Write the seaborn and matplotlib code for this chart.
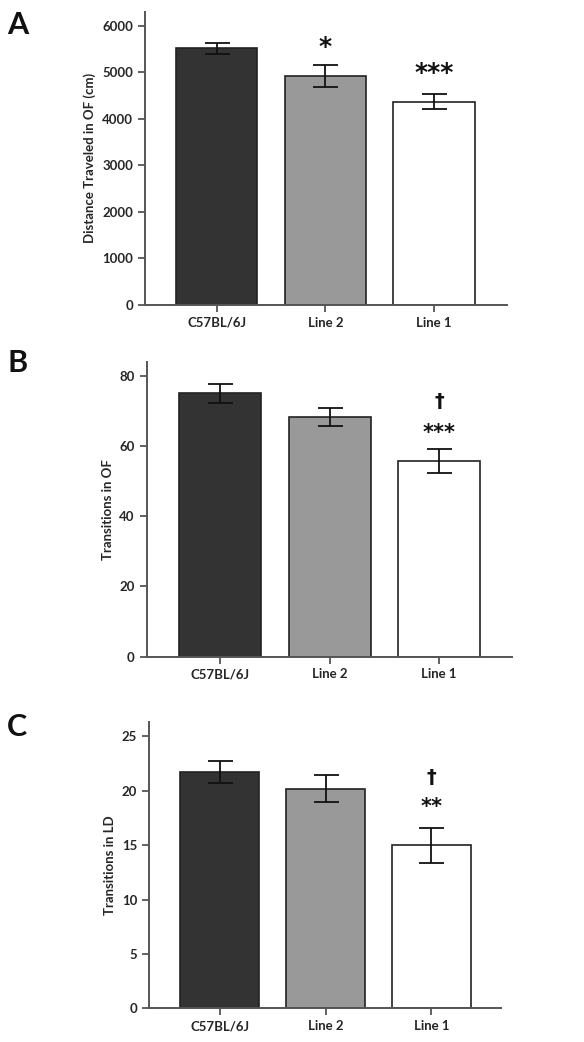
import numpy as np
import matplotlib
matplotlib.use("Agg")
import matplotlib.pyplot as plt
import seaborn as sns

# ---------------------------------------------------------------------------
# Data
# ---------------------------------------------------------------------------
groups = ["C57BL/6J", "Line 2", "Line 1"]
bar_colors = ["#333333", "#999999", "#ffffff"]

dist_mean = [5510, 4920, 4370]
dist_sem = [125, 230, 155]
dist_marks = ["", "*", "***"]

of_mean = [75.0, 68.2, 55.6]
of_sem = [2.7, 2.6, 3.4]
of_marks = ["", "", "***"]
of_dagger = ["", "", "\u2020"]

ld_mean = [21.7, 20.2, 15.0]
ld_sem = [1.0, 1.25, 1.6]
ld_marks = ["", "", "**"]
ld_dagger = ["", "", "\u2020"]

sns.set_theme(style="ticks")
plt.rcParams["font.family"] = ["Lato", "DejaVu Sans"]
plt.rcParams["font.weight"] = "bold"

_SPINE = "#555555"


def draw_panel(ax, means, sems, ylabel, yticks, ylim, xlim, marks, mark_off,
               daggers=None, dagger_off=None, mark_size=16):
    sns.barplot(x=groups, y=means, hue=groups, palette=bar_colors, legend=False,
                width=0.75, edgecolor="#222222", linewidth=1.2, ax=ax,
                saturation=1)
    ax.errorbar(np.arange(len(groups)), means, yerr=sems, fmt="none",
                ecolor="#111111", elinewidth=1.3, capsize=9, capthick=1.3,
                zorder=5)
    # significance marks above the bars
    for i, m in enumerate(marks):
        if m:
            ax.text(i, means[i] + mark_off, m, ha="center", va="center",
                    fontsize=mark_size, color="#111111",
                    family=["DejaVu Sans"])
    if daggers is not None:
        for i, d in enumerate(daggers):
            if d:
                ax.text(i, means[i] + dagger_off, d, ha="center",
                        va="center", fontsize=14, color="#111111",
                        family=["DejaVu Sans"])
    ax.set_ylim(*ylim)
    ax.set_xlim(*xlim)
    ax.set_yticks(yticks)
    ax.set_ylabel(ylabel, fontsize=9.5, fontweight="bold")
    ax.set_xlabel("")
    ax.tick_params(axis="both", labelsize=9.5, length=5, width=1.3,
                   color=_SPINE, direction="out")
    for lab in ax.get_xticklabels() + ax.get_yticklabels():
        lab.set_fontweight("bold")
    sns.despine(ax=ax)
    for side in ("left", "bottom"):
        ax.spines[side].set_color(_SPINE)
        ax.spines[side].set_linewidth(1.4)


fig = plt.figure(figsize=(5.84, 10.42), dpi=100)
axA = fig.add_axes([0.248, 0.7073, 0.620, 0.2815])
axB = fig.add_axes([0.251, 0.3698, 0.625, 0.2831])
axC = fig.add_axes([0.255, 0.0323, 0.603, 0.2745])

draw_panel(axA, dist_mean, dist_sem, "Distance Traveled in OF (cm)",
           [0, 1000, 2000, 3000, 4000, 5000, 6000], (0, 6300), (-0.66, 2.67),
           dist_marks, 620, mark_size=18)
draw_panel(axB, of_mean, of_sem, "Transitions in OF",
           [0, 20, 40, 60, 80], (0, 84), (-0.67, 2.66),
           of_marks, 8.2, of_dagger, 17.2, mark_size=15)
draw_panel(axC, ld_mean, ld_sem, "Transitions in LD",
           [0, 5, 10, 15, 20, 25], (0, 26.3), (-0.67, 2.66),
           ld_marks, 3.5, ld_dagger, 6.2, mark_size=15)

for lab, y in [("A", 0.976), ("B", 0.652), ("C", 0.302)]:
    fig.text(0.012, y, lab, fontsize=22, fontweight="bold", va="center",
             ha="left", color="#111111")

fig.savefig("out.png", dpi=100)
